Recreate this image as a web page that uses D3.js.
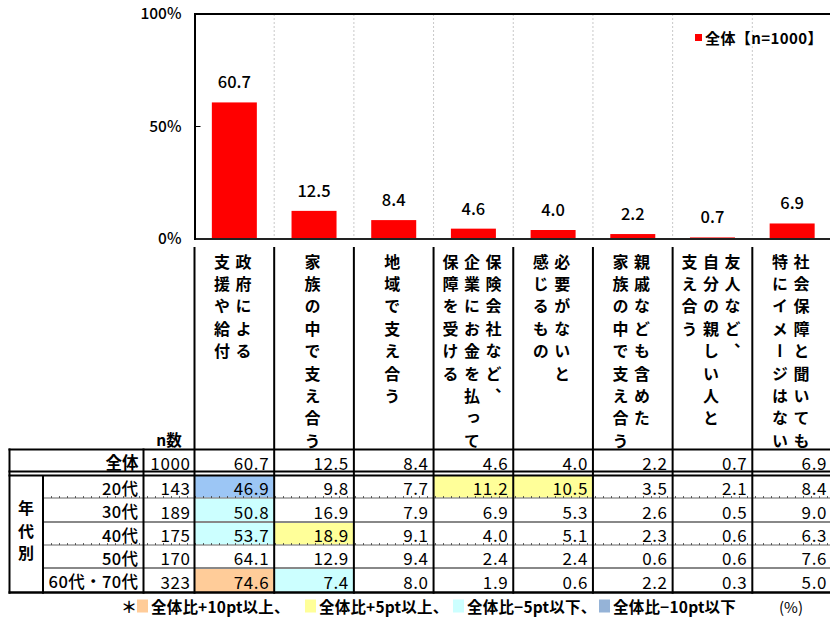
<!DOCTYPE html>
<html><head><meta charset="utf-8">
<script src="https://cdn.jsdelivr.net/npm/d3@7/dist/d3.min.js"></script>
<style>
body{margin:0;background:#fff;}
svg{display:block;}
text{font-family:"Noto Sans CJK JP","Noto Sans",sans-serif;fill:#000;}
</style></head>
<body><svg id="c" width="830" height="617"></svg>
<script>
// ---- data ----
const categories = ["政府による支援や給付","家族の中で支え合う","地域で支え合う","保険会社など、企業にお金を払って保障を受ける","必要がないと感じるもの","親戚なども含めた家族の中で支え合う","友人など、自分の親しい人と支え合う","社会保障と聞いても特にイメージはない"];
const categoryLines = [["政府による","支援や給付"],["家族の中で支え合う"],["地域で支え合う"],["保険会社など、","企業にお金を払って","保障を受ける"],["必要がないと","感じるもの"],["親戚なども含めた","家族の中で支え合う"],["友人など、","自分の親しい人と","支え合う"],["社会保障と聞いても","特にイメージはない"]];
const totalLabel = "全体";
const totalN = 1000;
const totalValues = [60.7,12.5,8.4,4.6,4.0,2.2,0.7,6.9];
const ageGroups = ["20代","30代","40代","50代","60代・70代"];
const ageN = [143,189,175,170,323];
const ageValues = [
  [46.9,9.8,7.7,11.2,10.5,3.5,2.1,8.4],
  [50.8,16.9,7.9,6.9,5.3,2.6,0.5,9.0],
  [53.7,18.9,9.1,4.0,5.1,2.3,0.6,6.3],
  [64.1,12.9,9.4,2.4,2.4,0.6,0.6,7.6],
  [74.6,7.4,8.0,1.9,0.6,2.2,0.3,5.0]
];
const yTicks = [0,50,100];
const tickLabels = ["0%","50%","100%"];
const legendLabel = "全体【n=1000】";
const highlightLabels = ["全体比+10pt以上、","全体比+5pt以上、","全体比−5pt以下、","全体比−10pt以下"];
const highlightColors = ["#FFCC99","#FFFF99","#CCFFFF","#95B3D7"];
const cellColors = {p10:"#FFCC99",p5:"#FFFF99",m5:"#CCFFFF",m10:"#9CC6F5"};
const groupLabel = "年代別";
const nLabel = "n数";
const unitLabel = "(%)";

// ---- layout ----
const svg = d3.select("#c");
const L = 194.5, R = 832, T = 14, B = 239;
const x = d3.scaleBand().domain(categories).range([L,R]).paddingInner(0).paddingOuter(0);
const y = d3.scaleLinear().domain([0,100]).range([B,T]);
const bw = 45;

// gridlines (dotted) at column boundaries
const bounds = categories.slice(1).map(c=>x(c));
svg.append("g").selectAll("line").data(bounds).join("line")
  .attr("x1",d=>d).attr("x2",d=>d).attr("y1",T).attr("y2",B)
  .attr("stroke","#c8c8c8").attr("stroke-width",1).attr("stroke-dasharray","2,2");

// bars
svg.append("g").selectAll("rect").data(totalValues).join("rect")
  .attr("x",(d,i)=>x(categories[i])+x.bandwidth()/2-bw/2)
  .attr("width",bw)
  .attr("y",d=>y(d)).attr("height",d=>B-y(d))
  .attr("fill","#FF0000");

svg.append("g").selectAll("text").data(totalValues).join("text")
  .attr("x",(d,i)=>x(categories[i])+x.bandwidth()/2)
  .attr("y",d=>y(d)-14)
  .attr("text-anchor","middle").attr("font-size",16.5).attr("font-weight",500)
  .text(d=>d.toFixed(1));

// axis frame
svg.append("line").attr("x1",L).attr("x2",R).attr("y1",T).attr("y2",T).attr("stroke","#000").attr("stroke-width",2);
svg.append("line").attr("x1",L).attr("x2",R).attr("y1",B).attr("y2",B).attr("stroke","#222").attr("stroke-width",2);
svg.append("line").attr("x1",L+0.5).attr("x2",L+0.5).attr("y1",T-1).attr("y2",B+1).attr("stroke","#000").attr("stroke-width",2);

const yAxis = d3.axisLeft(y).tickValues(yTicks).tickSize(0).tickPadding(13)
  .tickFormat((d,i)=>tickLabels[i]);
const ga = svg.append("g").attr("transform",`translate(${L},0)`).call(yAxis);
ga.select(".domain").remove();
ga.selectAll("text").attr("font-size",15.5).attr("font-weight",500).attr("font-family","'Noto Sans CJK JP',sans-serif").attr("fill","#000");
svg.append("g").selectAll("line").data(yTicks.filter(t=>t>0&&t<100)).join("line")
  .attr("x1",L).attr("x2",L+6).attr("y1",d=>y(d)).attr("y2",d=>y(d)).attr("stroke","#000");

// legend
svg.append("rect").attr("x",695).attr("y",34).attr("width",7).attr("height",7).attr("fill","#FF0000");
svg.append("text").attr("x",705).attr("y",43.5).attr("font-size",15).attr("font-weight",700).attr("letter-spacing",0.4).text(legendLabel);

// ---- header (vertical category labels) ----
const hTop = 247;
const lineGap = 21.5;
const hdr = svg.append("g");
categories.forEach((c,i)=>{
  const cx = x(c)+x.bandwidth()/2 - 1.5;
  const lines = categoryLines[i];
  const n = lines.length;
  lines.forEach((ln,k)=>{
    const lx = cx + ((n-1)/2 - k)*lineGap;
    hdr.append("text").attr("x",lx).attr("y",253.5)
      .style("writing-mode","vertical-rl")
      .attr("font-size",16).attr("font-weight",700)
      .attr("letter-spacing",6.4)
      .text(ln);
  });
});

// ---- table ----
const rowTop = [449,475,498,522,545,568];
const rowBot = [472,498,522,545,568,592.5];
const colR = categories.map(c=>x(c)+x.bandwidth());
const tbl = svg.append("g");

// highlight cells
function cls(v,t){const d=v-t; if(d>=10)return "p10"; if(d>=5)return "p5"; if(d<=-10)return "m10"; if(d<=-5)return "m5"; return null;}
ageValues.forEach((row,r)=>{
  row.forEach((v,i)=>{
    const k = cls(v,totalValues[i]);
    if(k){
      tbl.append("rect").attr("x",x(categories[i])).attr("y",rowTop[r+1])
        .attr("width",x.bandwidth()).attr("height",rowBot[r+1]-rowTop[r+1])
        .attr("fill",cellColors[k]);
    }
  });
});

// n数 label
tbl.append("text").attr("x",169).attr("y",438.5).attr("text-anchor","middle").attr("dominant-baseline","central")
  .attr("font-size",15.5).attr("font-weight",700).text(nLabel);

const numFS = 17, numLS = 0.6;
// total row
const cy0 = (rowTop[0]+rowBot[0])/2+1.5;
tbl.append("text").attr("x",138.5).attr("y",cy0).attr("text-anchor","end").attr("dominant-baseline","central")
  .attr("font-size",16.5).attr("font-weight",700).text(totalLabel);
tbl.append("text").attr("x",190.5).attr("y",cy0).attr("text-anchor","end").attr("dominant-baseline","central")
  .attr("font-size",numFS).attr("letter-spacing",numLS).text(totalN);
totalValues.forEach((v,i)=>{
  tbl.append("text").attr("x",colR[i]-5).attr("y",cy0).attr("text-anchor","end").attr("dominant-baseline","central")
    .attr("font-size",numFS).attr("letter-spacing",numLS).text(v.toFixed(1));
});

// age rows
ageGroups.forEach((g,r)=>{
  const cy = (rowTop[r+1]+rowBot[r+1])/2+1;
  tbl.append("text").attr("x",138.5).attr("y",cy).attr("text-anchor","end").attr("dominant-baseline","central")
    .attr("font-size",16.5).attr("font-weight",500).attr("letter-spacing",0.4).text(g);
  tbl.append("text").attr("x",190.5).attr("y",cy).attr("text-anchor","end").attr("dominant-baseline","central")
    .attr("font-size",numFS).attr("letter-spacing",numLS).text(ageN[r]);
  ageValues[r].forEach((v,i)=>{
    tbl.append("text").attr("x",colR[i]-5).attr("y",cy).attr("text-anchor","end").attr("dominant-baseline","central")
      .attr("font-size",numFS).attr("letter-spacing",numLS).text(v.toFixed(1));
  });
});

// group label (vertical)
tbl.append("text").attr("x",26).attr("y",(rowTop[1]+rowBot[5])/2)
  .style("writing-mode","vertical-rl").attr("text-anchor","middle")
  .attr("font-size",16).attr("font-weight",700).attr("letter-spacing",6.4)
  .text(groupLabel);

// lines
function hl(x1,x2,yy,col,w,dash){tbl.append("line").attr("x1",x1).attr("x2",x2).attr("y1",yy).attr("y2",yy).attr("stroke",col).attr("stroke-width",w).attr("stroke-dasharray",dash||null);}
function vl(xx,y1,y2,col,w){tbl.append("line").attr("x1",xx).attr("x2",xx).attr("y1",y1).attr("y2",y2).attr("stroke",col).attr("stroke-width",w);}
[498,545].forEach(yy=>{hl(43,R,yy,"#999",1.5); hl(43,R,yy-1,"#333",1.5,"1,7");});
[522,568].forEach(yy=>{hl(43,R,yy,"#888",2.2);});
hl(8.5,R,449.5,"#000",2);
hl(8.5,R,471.5,"#000",2);
hl(8.5,R,475.5,"#000",2);
hl(8.5,R,592.5,"#000",2.5);
vl(9.5,448.5,593.7,"#000",2);
vl(43,475,593.7,"#000",2);
vl(143.5,448.5,593.7,"#000",2);
vl(L,hTop,593.7,"#000",2);
bounds.forEach(b=>vl(b,hTop,593.7,"#000",2));

// footnote
const fy = 606;
const fn = svg.append("g");
fn.append("text").attr("x",121).attr("y",fy).attr("dominant-baseline","central").attr("font-size",16).attr("font-weight",700).text("＊");
const swX = [137,305,453,599];
highlightLabels.forEach((lab,i)=>{
  fn.append("rect").attr("x",swX[i]).attr("y",fy-6.5).attr("width",11).attr("height",13).attr("fill",highlightColors[i]);
  fn.append("text").attr("x",swX[i]+14).attr("y",fy).attr("dominant-baseline","central")
    .attr("font-size",15.5).attr("font-weight",700).attr("letter-spacing",0.2).text(lab);
});
fn.append("text").attr("x",779).attr("y",fy).attr("dominant-baseline","central").attr("font-size",15).attr("font-weight",400).text(unitLabel);
</script></body></html>
